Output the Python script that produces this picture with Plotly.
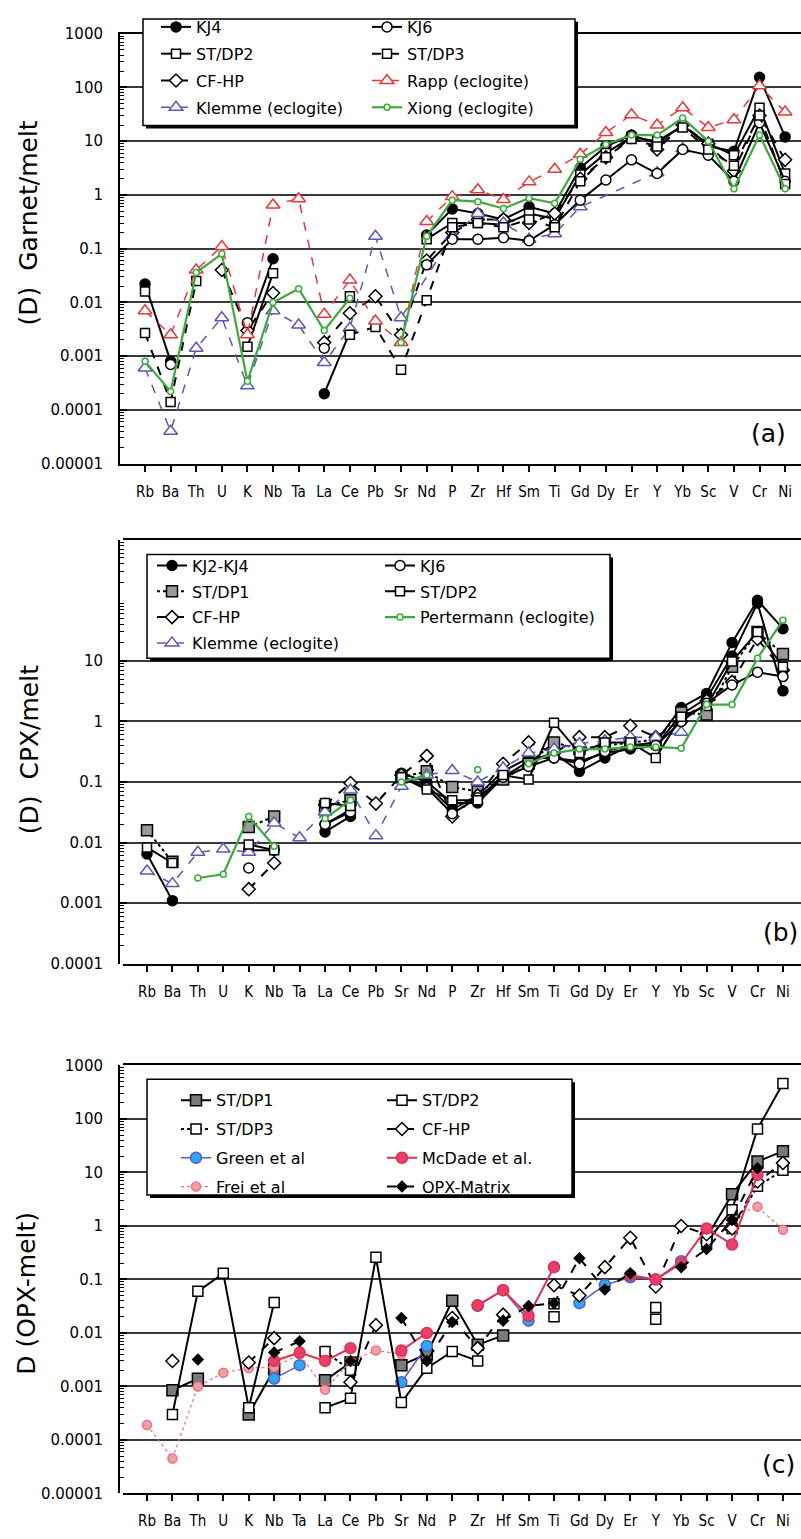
import plotly.graph_objects as go

W, H = 801, 1539

elements = ["Rb", "Ba", "Th", "U", "K", "Nb", "Ta", "La", "Ce", "Pb", "Sr", "Nd", "P",
            "Zr", "Hf", "Sm", "Ti", "Gd", "Dy", "Er", "Y", "Yb", "Sc", "V", "Cr", "Ni"]

# ---------------- (a) Garnet / melt ----------------
a_kj4 = [0.022, 0.0008, None, None, 0.003, 0.065, None, 0.0002, 0.0028, None, None, 0.18, 0.55,
         0.45, 0.35, 0.6, 0.45, 3.2, 8, 13, 9, 20, 8, 6.5, 155, 12]
a_kj6 = [None, 0.0007, None, None, 0.0042, None, None, 0.0014, None, None, None, 0.05, 0.15,
         0.15, 0.16, 0.14, 0.28, 0.8, 1.9, 4.5, 2.5, 7, 5.5, 1.8, 22, 1.8]
a_stdp2 = [0.016, None, None, None, 0.0015, 0.035, None, None, 0.013, None, None, 0.15, 0.3,
           0.3, 0.28, 0.45, 0.36, 2.4, 6, 12, 10, 19, 9, 5.5, 42, 2.5]
a_stdp3 = [0.0027, 0.00014, 0.025, None, None, None, None, None, 0.0025, 0.0035, 0.00056, 0.011, 0.25,
           0.3, 0.25, 0.35, 0.25, 1.8, 5, 11, 8, 18, 7, 3.5, 30, 1.6]
a_cfhp = [None, None, None, 0.04, 0.003, 0.015, None, 0.0018, 0.0063, 0.013, 0.0025, 0.06, 0.2,
          0.35, 0.35, 0.3, 0.45, 2.0, 5, 12, 7, 20, 9, 2.8, 30, 4.5]
a_rapp = [0.007, 0.0025, 0.04, 0.11, 0.0025, 0.65, 0.85, 0.006, 0.026, 0.0045, 0.0018, 0.32, 0.93,
          1.25, 0.82, 1.75, 3.0, 5.7, 14.5, 31, 20, 42, 18, 25, 107, 35]
a_klemme = [0.0006, 0.00004, 0.0014, 0.0052, 0.00028, 0.007, 0.0038, 0.00076, 0.0033, 0.17, 0.0052, None, 0.17,
            0.45, 0.3, 0.15, 0.19, 0.6, None, None, 2.6, 7.2, None, None, None, None]
a_xiong = [0.0008, 0.00022, 0.036, 0.08, 0.00034, 0.01, 0.018, 0.003, 0.012, None, 0.0018, 0.17, 0.8,
           0.75, 0.56, 0.87, 0.7, 4.6, 8.7, 13, 13, 27, 10, 1.3, 13, 1.3]

# ---------------- (b) CPX / melt ----------------
b_kj2 = [0.0065, 0.0011, None, None, 0.0075, 0.0075, None, 0.015, 0.027, None, 0.14, 0.1, 0.045,
         0.045, 0.12, 0.22, 0.3, 0.15, 0.25, 0.4, 0.45, 1.7, 2.9, 20, 100, 34]
b_kj4 = [None, None, None, None, None, None, None, 0.02, 0.035, None, 0.12, 0.09, 0.035,
         0.06, 0.15, 0.25, 0.25, 0.22, 0.3, 0.35, 0.4, 1.3, 2.4, 12, 90, 3.2]
b_kj6 = [None, None, None, None, 0.0038, None, None, 0.02, 0.032, None, 0.12, 0.08, 0.03,
         0.055, 0.12, 0.18, 0.25, 0.2, 0.32, 0.4, 0.4, 1.0, 2.0, 4.0, 6.5, 5.5]
b_stdp1 = [0.016, 0.0048, None, None, 0.018, 0.027, None, 0.04, 0.05, None, 0.12, 0.15, 0.083,
           0.07, 0.11, 0.2, 0.45, 0.35, 0.4, 0.45, 0.5, 1.4, 1.3, 8, 30, 13]
b_stdp2 = [0.0083, 0.0046, None, None, 0.0093, 0.0075, None, 0.045, 0.04, None, 0.12, 0.075, 0.05,
           0.05, 0.13, 0.11, 0.95, 0.3, 0.45, 0.45, 0.25, 1.2, 1.8, 9.8, 30, 8]
b_cfhp = [None, None, None, None, 0.0017, 0.0046, None, 0.042, 0.096, 0.044, 0.13, 0.27, 0.027,
          0.06, 0.2, 0.45, 0.3, 0.55, 0.55, 0.85, 0.55, 1.0, 2.2, 4.5, 23, 7]
b_pert = [None, None, 0.0026, 0.003, 0.027, 0.0087, None, 0.025, 0.05, None, 0.1, 0.13, None,
          0.16, None, 0.2, 0.3, 0.35, 0.35, 0.38, 0.38, 0.36, 1.9, 1.9, 11, 47]
b_klemme = [0.0034, 0.0021, 0.0069, 0.0078, 0.0069, 0.021, 0.012, 0.032, 0.074, 0.013, 0.085, 0.13, 0.155,
            0.1, 0.17, 0.3, 0.35, 0.43, 0.48, 0.55, 0.55, 0.66, None, None, None, None]

# ---------------- (c) OPX / melt ----------------
c_stdp1 = [None, 0.00085, 0.0014, None, 0.0003, 0.0021, None, 0.0013, 0.0028, None, 0.0025, 0.004, 0.04,
           0.006, 0.009, None, None, None, None, None, None, None, 0.6, 3.9, 16, 25]
c_stdp2 = [None, 0.0003, 0.06, 0.13, 0.0004, 0.037, None, 0.0004, 0.0006, 0.26, 0.0005, 0.0022, 0.0045,
           0.003, None, None, 0.02, None, None, None, 0.018, None, 0.5, 2.0, 65, 460]
c_stdp3 = [None, None, None, None, None, None, None, 0.0045, 0.002, None, None, None, None,
           None, None, None, 0.035, None, None, None, 0.03, None, None, 0.9, 5.5, 11]
c_cfhp = [None, 0.003, None, None, 0.0028, 0.008, None, None, 0.0012, 0.014, None, None, 0.019,
          0.0052, 0.022, None, 0.078, 0.05, 0.17, 0.6, 0.074, 1.0, 0.7, 0.9, 6.8, 15]
c_green = [None, None, None, None, None, 0.0014, 0.0025, None, None, None, 0.0012, 0.0057, None,
           0.032, 0.063, 0.017, None, 0.036, 0.079, 0.11, 0.1, 0.22, None, None, None, None]
c_mcdade = [None, None, None, None, None, 0.003, 0.0043, 0.003, 0.0052, None, 0.0047, 0.01, None,
            0.033, 0.063, 0.021, 0.17, None, None, 0.12, 0.1, 0.2, 0.9, 0.45, 9, None]
c_frei = [0.00019, 0.000045, 0.001, 0.0018, 0.0022, 0.0023, 0.004, 0.00087, 0.003, 0.0047, 0.004, None, None,
          None, None, None, 0.18, None, None, None, None, None, 0.67, 1.5, 2.3, 0.85]
c_opx = [None, None, 0.0032, None, None, 0.0043, 0.007, None, 0.003, None, 0.019, 0.003, 0.016,
         None, 0.017, 0.032, 0.036, 0.25, 0.065, 0.13, None, 0.17, 0.37, 1.3, 12, None]

ytick_vals = [1e-5, 1e-4, 1e-3, 1e-2, 1e-1, 1, 10, 100, 1000]
ytick_text = ["0.00001", "0.0001", "0.001", "0.01", "0.1", "1", "10", "100", "1000"]

FONT = "DejaVu Sans"
XFONT = "DejaVu Sans Condensed, DejaVu Sans"
RED = "#e8383d"
BLUE = "#5a5ab4"
GREEN = "#3daa3d"


def px(x):
    return x / W


def py(y):
    return 1 - y / H


fig = go.Figure()


def add(xa, ya, name, vals, color, dash, symbol, size, fill, lw, legend,
        showlegend=True, mline=None, mlw=1.5, connect=False):
    fig.add_trace(go.Scatter(
        x=elements, y=vals, name=name, mode="lines+markers", xaxis=xa, yaxis=ya,
        line=dict(color=color, width=lw, dash=dash),
        marker=dict(symbol=symbol, size=size, color=fill,
                    line=dict(color=mline or color, width=mlw)),
        legend=legend, showlegend=showlegend, legendgroup=legend + name,
        connectgaps=connect, hoverinfo="skip"))


# (a)
add("x", "y", "KJ4", a_kj4, "black", "solid", "circle", 10, "black", 2, "legend")
add("x", "y", "ST/DP2", a_stdp2, "black", "solid", "square", 9, "white", 2, "legend")
add("x", "y", "CF-HP", a_cfhp, "black", "dash", "diamond", 10, "white", 2, "legend")
add("x", "y", "Klemme (eclogite)", a_klemme, BLUE, "dash", "triangle-up", 12, "white", 1.5, "legend", connect=True)
add("x", "y", "KJ6", a_kj6, "black", "solid", "circle", 10, "white", 2, "legend2")
add("x", "y", "ST/DP3", a_stdp3, "black", "dash", "square", 9, "white", 2, "legend2")
add("x", "y", "Rapp (eclogite)", a_rapp, RED, "dash", "triangle-up", 12, "white", 1.5, "legend2")
add("x", "y", "Xiong (eclogite)", a_xiong, GREEN, "solid", "circle", 6, "white", 2.2, "legend2")

# (b)
add("x2", "y2", "KJ2-KJ4", b_kj2, "black", "solid", "circle", 10, "black", 2, "legend3")
add("x2", "y2", "KJ4", b_kj4, "black", "solid", "circle", 10, "black", 2, "legend3", showlegend=False)
add("x2", "y2", "ST/DP1", b_stdp1, "black", "dot", "square", 11, "#9a9a9a", 2, "legend3")
add("x2", "y2", "CF-HP", b_cfhp, "black", "dash", "diamond", 10, "white", 2, "legend3")
add("x2", "y2", "Klemme (eclogite)", b_klemme, BLUE, "dash", "triangle-up", 12, "white", 1.5, "legend3")
add("x2", "y2", "KJ6", b_kj6, "black", "solid", "circle", 10, "white", 2, "legend4")
add("x2", "y2", "ST/DP2", b_stdp2, "black", "solid", "square", 9, "white", 2, "legend4")
add("x2", "y2", "Pertermann (eclogite)", b_pert, GREEN, "solid", "circle", 6, "white", 2.2, "legend4")

# (c)
add("x3", "y3", "ST/DP1", c_stdp1, "black", "solid", "square", 11, "#7a7a7a", 2, "legend5")
add("x3", "y3", "ST/DP3", c_stdp3, "black", "dot", "square", 10, "white", 2, "legend5")
add("x3", "y3", "Green et al", c_green, "#5b5bd0", "solid", "circle", 11, "#2aa8f0", 1.5, "legend5", mline="#5b5bd0")
add("x3", "y3", "Frei et al", c_frei, "#f07080", "dot", "circle", 9, "#f0a0a8", 1.2, "legend5", mline="#f07080")
add("x3", "y3", "ST/DP2", c_stdp2, "black", "solid", "square", 10, "white", 2, "legend6")
add("x3", "y3", "CF-HP", c_cfhp, "black", "dash", "diamond", 10, "white", 2, "legend6")
add("x3", "y3", "McDade et al.", c_mcdade, "#e03050", "solid", "circle", 11, "#e8406a", 2, "legend6", mline="#e03050")
add("x3", "y3", "OPX-Matrix", c_opx, "black", "dash", "diamond", 8, "black", 2, "legend6")

minor_vals = [m * 10.0 ** e for e in range(-5, 3) for m in range(2, 10)]


def yax(top, bottom, lo, hi, nlab):
    return dict(
        type="log", domain=[py(bottom), py(top)], range=[lo, hi],
        tickmode="array", tickvals=ytick_vals[:nlab], ticktext=ytick_text[:nlab],
        ticks="inside", ticklen=7, tickwidth=1.5, tickcolor="black",
        showline=True, linewidth=2, linecolor="black",
        showgrid=True, gridcolor="#3a3a3a", gridwidth=1.5, zeroline=False,
        minor=dict(tickmode="array", tickvals=minor_vals, ticks="inside", ticklen=4,
                   tickwidth=1, tickcolor="black", showgrid=False),
        tickfont=dict(family=FONT, size=15, color="black"), ticklabelstandoff=12)


def xax(left, rng, anchor):
    return dict(
        type="category", domain=[px(left), 1.0], range=rng, anchor=anchor,
        categoryorder="array", categoryarray=elements,
        ticks="outside", ticklen=6, tickwidth=1.5, tickcolor="black",
        showline=True, linewidth=2, linecolor="black", mirror=True,
        showgrid=False, zeroline=False,
        tickfont=dict(family=XFONT, size=15, color="black"), ticklabelstandoff=7)


def xover(over, rng, anchor):
    return dict(
        type="linear", overlaying=over, anchor=anchor, range=rng,
        tickmode="array", tickvals=list(range(len(elements))),
        ticks="inside", ticklen=6, tickwidth=1.5, tickcolor="black",
        showticklabels=False, showline=False, showgrid=False, zeroline=False)


ra = [-0.977, 25.62]
rb = [-0.943, 25.71]

shapes = []


def legend_box(x0, y0, x1, y1):
    shapes.append(dict(type="rect", xref="paper", yref="paper", layer="above",
                       x0=px(x0 + 3), x1=px(x1 + 3), y0=py(y1 + 3), y1=py(y0 + 3),
                       fillcolor="black", line=dict(width=0)))
    shapes.append(dict(type="rect", xref="paper", yref="paper", layer="above",
                       x0=px(x0), x1=px(x1), y0=py(y1), y1=py(y0),
                       fillcolor="white", line=dict(color="black", width=1.5)))


legend_box(143, 10, 575, 118)
legend_box(147, 552, 610, 657)
legend_box(147, 1083, 572, 1200)


def leg(x, y, gap):
    return dict(x=px(x), y=py(y), xanchor="left", yanchor="top",
                bgcolor="rgba(0,0,0,0)", borderwidth=0, tracegroupgap=gap,
                font=dict(family=FONT, size=16, color="black"), itemwidth=30)


def ann(text, x, y, size, angle=0):
    return dict(text=text, x=px(x), y=py(y), xref="paper", yref="paper",
                showarrow=False, textangle=angle, xanchor="center", yanchor="middle",
                font=dict(family=FONT, size=size, color="black"))


fig.update_layout(
    width=W, height=H, margin=dict(l=0, r=0, t=0, b=0),
    paper_bgcolor="white", plot_bgcolor="white", showlegend=True,
    xaxis=xax(120, ra, "y"), yaxis=yax(25, 460, -5, 3, 9),
    xaxis2=xax(123, rb, "y2"), yaxis2=yax(537, 966, -4, 3, 7),
    xaxis3=xax(123, rb, "y3"), yaxis3=yax(1069, 1502, -5, 3, 9),
    xaxis4=xover("x", ra, "y"), xaxis5=xover("x2", rb, "y2"), xaxis6=xover("x3", rb, "y3"),
    legend=leg(156, 1, 3), legend2=leg(367, 1, 3),
    legend3=leg(152, 546, 2), legend4=leg(380, 546, 2),
    legend5=leg(176, 1087, 5), legend6=leg(382, 1087, 5),
    shapes=shapes,
    annotations=[
        ann("(D)  Garnet/melt", 28, 217, 25, -90),
        ann("(D)  CPX/melt", 29, 750, 25, -90),
        ann("D (OPX-melt)", 27, 1300, 25, -90),
        ann("(a)", 768, 430, 25),
        ann("(b)", 780, 934, 25),
        ann("(c)", 778, 1473, 25),
    ],
)

fig.write_html("out.html")
